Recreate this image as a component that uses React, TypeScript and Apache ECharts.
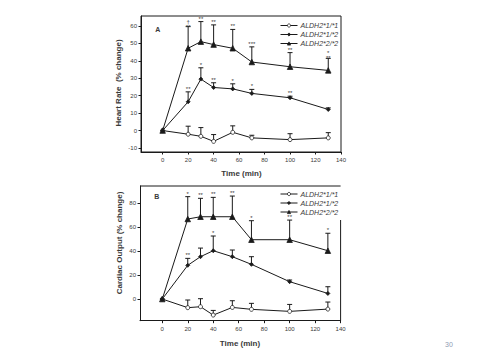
import React, { useEffect, useRef } from "react";
import * as echarts from "echarts";

const times = [0, 20, 30, 40, 55, 70, 100, 130];
const xTicks = [0, 20, 40, 60, 80, 100, 120, 140];
const hrTicks = [-10, 0, 10, 20, 30, 40, 50, 60];
const coTicks = [0, 20, 40, 60, 80];
const names = ["ALDH2*1/*1", "ALDH2*1/*2", "ALDH2*2/*2"];

// Heart rate (% change) means and upper error (SEM)
const hr11 = [0, -2.1, -3.3, -6.2, -1, -4.2, -5.2, -4.2];
const hr11Sem = [0, 4.6, 5, 3.9, 3.7, 1.5, 3.4, 3];
const hr12 = [0, 16.5, 29.5, 24.7, 23.9, 21.3, 18.8, 12.1];
const hr12Sem = [0, 5.7, 6.5, 2.7, 2.9, 2.3, 0.9, 0.9];
const hr22 = [0, 47.2, 51, 49.3, 47.2, 39.3, 36.6, 34.5];
const hr22Sem = [0, 12.4, 11.5, 11.3, 10.8, 8.7, 8.1, 6.9];
const hr11Stars = ["", "", "", "", "", "", "", ""];
const hr12Stars = ["", "**", "*", "**", "*", "*", "**", ""];
const hr22Stars = ["", "†\n**", "**", "**", "**", "***", "**", "*\n**"];

// Cardiac output (% change)
const co11 = [0, -7.2, -6.4, -13.4, -7, -8.6, -10.3, -8.4];
const co11Sem = [0, 6.4, 6.7, 3.9, 5.6, 5, 5.8, 5.9];
const co12 = [0, 28.2, 35.4, 40.4, 35.4, 29, 14.5, 4.7];
const co12Sem = [0, 5.8, 7.2, 12.3, 5.6, 6.4, 1.4, 5.6];
const co22 = [0, 66.9, 68.8, 68.8, 68.8, 49.6, 49.6, 40.4];
const co22Sem = [0, 18.7, 15.4, 16.2, 17.3, 15.9, 16.4, 14.6];
const co11Stars = ["", "", "", "", "", "", "", ""];
const co12Stars = ["", "**", "", "*", "", "", "", ""];
const co22Stars = ["", "*", "**", "**", "**", "*", "**", "*"];

const FONT = "Liberation Sans";
const INK = "#1a1a1a";
const TXT = "#3a3a3a";

function lineSeries(name: string, vals: number[], idx: number, symbol: string, size: number, fill: string) {
  return {
    type: "line",
    name,
    xAxisIndex: idx,
    yAxisIndex: idx,
    data: times.map((t, i) => [t, vals[i]]),
    symbol,
    symbolSize: size,
    showSymbol: true,
    lineStyle: { color: INK, width: 1 },
    itemStyle: { color: fill, borderColor: INK, borderWidth: 0.8 },
    z: 3,
  };
}

function errSeries(vals: number[], sem: number[], stars: string[], idx: number) {
  return {
    type: "custom",
    xAxisIndex: idx,
    yAxisIndex: idx,
    silent: true,
    z: 2,
    data: times.map((t, i) => [t, vals[i], vals[i] + sem[i]]),
    renderItem: (params: any, api: any) => {
      const i = params.dataIndex;
      const p0 = api.coord([api.value(0), api.value(1)]);
      const p1 = api.coord([api.value(0), api.value(2)]);
      const children: any[] = [];
      if (sem[i] > 0) {
        children.push({
          type: "line",
          shape: { x1: p0[0], y1: p0[1], x2: p1[0], y2: p1[1] },
          style: { stroke: INK, lineWidth: 1 },
        });
        children.push({
          type: "line",
          shape: { x1: p1[0] - 2.5, y1: p1[1], x2: p1[0] + 2.5, y2: p1[1] },
          style: { stroke: INK, lineWidth: 1 },
        });
      }
      if (stars[i]) {
        const twoLines = stars[i].indexOf("\n") >= 0;
        children.push({
          type: "text",
          x: p1[0],
          y: twoLines ? p1[1] + 2.5 : p1[1] - 0.5,
          style: {
            text: stars[i],
            fontSize: 6,
            lineHeight: 5,
            fontFamily: FONT,
            fill: TXT,
            align: "center",
            verticalAlign: "bottom",
          },
        });
      }
      return { type: "group", children };
    },
  };
}

function xAxis(idx: number, min: number) {
  return {
    type: "value",
    gridIndex: idx,
    min,
    max: 140,
    axisLine: { show: true, onZero: false, lineStyle: { color: INK, width: 1 } },
    axisTick: { show: true, length: 2.5, customValues: xTicks, lineStyle: { color: INK } },
    axisLabel: { customValues: xTicks, fontSize: 6, fontFamily: FONT, color: TXT, margin: 5 },
    splitLine: { show: false },
  };
}

function yAxis(idx: number, min: number, max: number, ticks: number[]) {
  return {
    type: "value",
    gridIndex: idx,
    min,
    max,
    axisLine: { show: true, onZero: false, lineStyle: { color: INK, width: 1 } },
    axisTick: { show: true, length: 2.5, customValues: ticks, lineStyle: { color: INK } },
    axisLabel: { customValues: ticks, fontSize: 6, fontFamily: FONT, color: TXT, margin: 4 },
    splitLine: { show: false },
  };
}

function legend(top: number) {
  return {
    orient: "vertical",
    left: 280,
    top,
    itemWidth: 17,
    itemHeight: 4,
    itemGap: 2,
    data: names,
    lineStyle: { width: 1 },
    itemStyle: { borderWidth: 0.8 },
    textStyle: { fontSize: 7, fontStyle: "italic", fontFamily: FONT, color: TXT, lineHeight: 7, padding: [0, 0, 0, -2] },
    padding: 0,
  };
}

function titleText(text: string, x: number, y: number, rot: number, size: number, weight: string) {
  return {
    type: "text",
    x,
    y,
    rotation: rot,
    style: {
      text,
      fontSize: size,
      fontWeight: weight,
      fontFamily: FONT,
      fill: TXT,
      align: "center",
      verticalAlign: "middle",
    },
  };
}

export default function App() {
  const ref = useRef<HTMLDivElement>(null);
  useEffect(() => {
    document.body.style.margin = "0";
    if (!ref.current) return;
    const chart = echarts.init(ref.current, null, { renderer: "svg" });
    chart.setOption({
      animation: false,
      backgroundColor: "#ffffff",
      grid: [
        { left: 141, top: 16, width: 200, height: 136, show: true, borderColor: INK, borderWidth: 1, backgroundColor: "transparent" },
        { left: 140, top: 186, width: 200.6, height: 134.7, show: false },
      ],
      xAxis: [xAxis(0, -17), xAxis(1, -17.5)],
      yAxis: [yAxis(0, -12.3, 65.7, hrTicks), yAxis(1, -18.1, 94.5, coTicks)],
      legend: [legend(22), legend(190.5)],
      series: [
        errSeries(hr11, hr11Sem, hr11Stars, 0),
        errSeries(hr12, hr12Sem, hr12Stars, 0),
        errSeries(hr22, hr22Sem, hr22Stars, 0),
        lineSeries(names[0], hr11, 0, "circle", 4, "#ffffff"),
        lineSeries(names[1], hr12, 0, "diamond", 4, INK),
        lineSeries(names[2], hr22, 0, "triangle", 5.5, INK),
        errSeries(co11, co11Sem, co11Stars, 1),
        errSeries(co12, co12Sem, co12Stars, 1),
        errSeries(co22, co22Sem, co22Stars, 1),
        lineSeries(names[0], co11, 1, "circle", 4, "#ffffff"),
        lineSeries(names[1], co12, 1, "diamond", 4, INK),
        lineSeries(names[2], co22, 1, "triangle", 5.5, INK),
      ],
      graphic: [
        { type: "line", shape: { x1: 140, y1: 186, x2: 340.6, y2: 186 }, style: { stroke: INK, lineWidth: 1 } },
        { type: "line", shape: { x1: 340.6, y1: 220, x2: 340.6, y2: 320.7 }, style: { stroke: INK, lineWidth: 1 } },
        titleText("Heart Rate  (% change)", 118, 83, Math.PI / 2, 8, "bold"),
        titleText("Cardiac Output (% change)", 119, 243, Math.PI / 2, 8, "bold"),
        titleText("Time (min)", 241.5, 173, 0, 8, "bold"),
        titleText("Time (min)", 240, 343, 0, 8, "bold"),
        titleText("A", 157.7, 29, 0, 7, "bold"),
        titleText("B", 156.7, 196.7, 0, 7, "bold"),
        {
          type: "text",
          x: 449,
          y: 344,
          style: { text: "30", fontSize: 7, fontFamily: FONT, fill: "#8f9bb3", align: "center", verticalAlign: "middle" },
        },
      ],
    });
    return () => chart.dispose();
  }, []);
  return <div ref={ref} style={{ width: 482, height: 362 }} />;
}
